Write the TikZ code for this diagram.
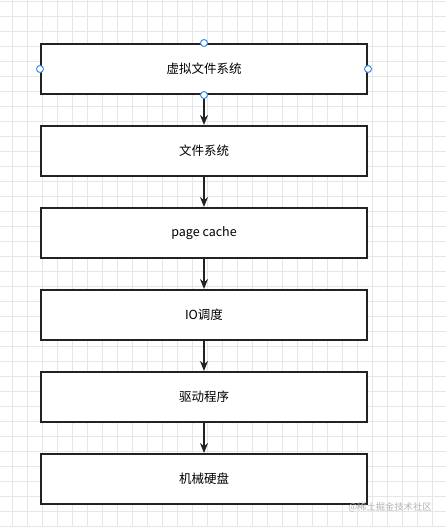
\documentclass[tikz,border=0pt]{standalone}
\usepackage{fontspec}
\setmainfont{Noto Sans CJK SC}
\usetikzlibrary{arrows.meta}
\definecolor{gridgray}{HTML}{E6E6E6}
\definecolor{boxline}{HTML}{222222}
\definecolor{handleblue}{HTML}{3D8EE8}

\begin{document}
\begin{tikzpicture}[x=1pt, y=-1pt,
    box/.style={draw=boxline, line width=2pt, fill=white, minimum width=326pt,
      minimum height=50pt, inner sep=0pt, font=\fontsize{12.5}{14}\selectfont},
    handle/.style={circle, draw=handleblue, fill=white, line width=1pt,
      inner sep=0pt, minimum size=7pt},
    flow/.style={draw=boxline, line width=2pt, -{Stealth[length=10pt, width=8pt]}}]
  \useasboundingbox (0,0) rectangle (446,527);
  % background grid
  \foreach \x in {12.7,27.7,...,446} \draw[gridgray, line width=0.8pt] (\x,0) -- (\x,527);
  \foreach \y in {1.7,16.7,...,527} \draw[gridgray, line width=0.8pt] (0,\y) -- (446,\y);

  \node[box] (vfs) at (204,69) {虚拟文件系统};
  \node[box] (fs) at (204,151) {文件系统};
  \node[box] (cache) at (204,233) {page cache};
  \node[box] (io) at (204,315) {IO调度};
  \node[box] (driver) at (204,397) {驱动程序};
  \node[box] (disk) at (204,479) {机械硬盘};

  \draw[flow] (vfs) -- (fs);
  \draw[flow] (fs) -- (cache);
  \draw[flow] (cache) -- (io);
  \draw[flow] (io) -- (driver);
  \draw[flow] (driver) -- (disk);

  % selection handles
  \node[handle] (hn) at (vfs.north) {};
  \node[handle] (hs) at (vfs.south) {};
  \node[handle] (hw) at (vfs.west) {};
  \node[handle] (he) at (vfs.east) {};

  \node[text=black!30, font=\fontsize{9.3}{11}\selectfont] (mark) at (390,507) {@稀土掘金技术社区};
\end{tikzpicture}
\end{document}
